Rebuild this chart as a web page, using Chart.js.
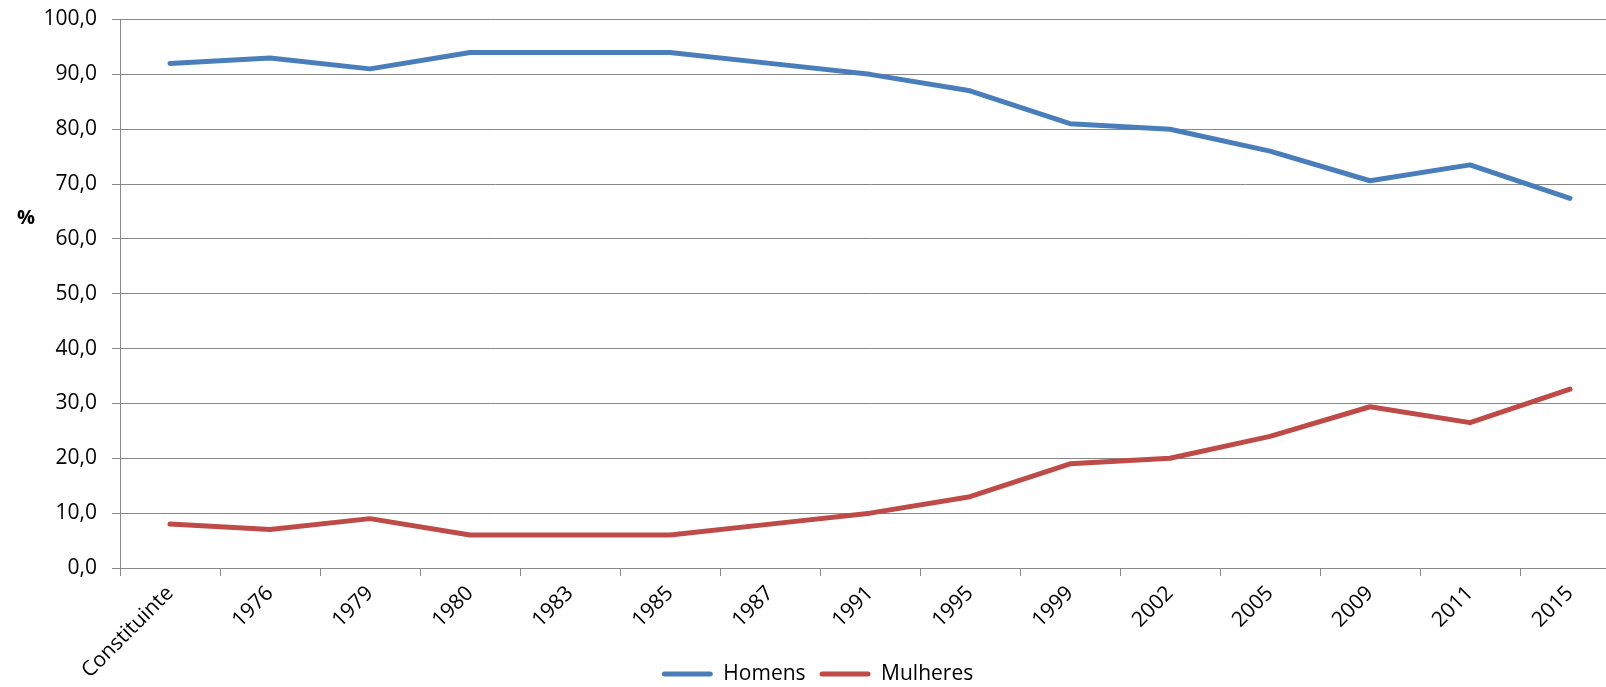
<!DOCTYPE html>
<html><head><meta charset="utf-8">
<script src="https://cdn.jsdelivr.net/npm/chart.js@4"></script>
<style>
html,body{margin:0;padding:0;background:#fff;overflow:hidden;width:1606px;height:687px;}
#wrap{position:absolute;left:0;top:0;width:1626px;height:687px;}
</style></head><body>
<div id="wrap"><canvas id="c" width="1626" height="687"></canvas></div>
<script>
const categories = ["Constituinte","1976","1979","1980","1983","1985","1987","1991","1995","1999","2002","2005","2009","2011","2015"];
const homens   = [92, 93, 91, 94, 94, 94, 92, 90, 87, 81, 80, 76, 70.6, 73.5, 67.4];
const mulheres = [8, 7, 9, 6, 6, 6, 8, 10, 13, 19, 20, 24, 29.4, 26.5, 32.6];
const yTicks = [0,10,20,30,40,50,60,70,80,90,100];
const unitLabel = "%";

const FONT = "'Open Sans', sans-serif";
const FS = 21;
const pctPlugin = {
  id:'pct',
  afterDraw(chart){
    const ctx = chart.ctx, y = chart.scales.y;
    ctx.save();
    ctx.font = "bold 20px " + FONT;
    ctx.fillStyle = "#000";
    ctx.textAlign = "left"; ctx.textBaseline = "middle";
    ctx.fillText(unitLabel, 17, y.getPixelForValue(63.7));
    ctx.restore();
  }
};

new Chart(document.getElementById('c'), {
  type:'line',
  data:{
    labels: categories,
    datasets:[
      {label:'Homens', data:homens, borderColor:'#4A7EBB', backgroundColor:'#4A7EBB', borderWidth:5, pointRadius:0, tension:0, borderCapStyle:'round', borderJoinStyle:'round'},
      {label:'Mulheres', data:mulheres, borderColor:'#BE4B48', backgroundColor:'#BE4B48', borderWidth:5, pointRadius:0, tension:0, borderCapStyle:'round', borderJoinStyle:'round'}
    ]
  },
  options:{
    responsive:false, animation:false,
    layout:{padding:{top:19.5, right:6, left:15, bottom:-7.5}},
    plugins:{
      legend:{position:'bottom', labels:{font:{family:FONT,size:FS}, color:'#000', boxWidth:51, boxHeight:5, padding:14, useBorderRadius:true, borderRadius:2.5,
        generateLabels(chart){ return chart.data.datasets.map((d,i)=>({text:d.label, fillStyle:d.borderColor, strokeStyle:d.borderColor, lineWidth:0, borderRadius:2.5, datasetIndex:i, fontColor:'#000'})); }}},
      tooltip:{enabled:false}
    },
    scales:{
      x:{
        offset:true,
        grid:{display:true, offset:true, drawOnChartArea:false, drawTicks:true, tickLength:8, color:'#888888', lineWidth:1},
        border:{color:'#888888', width:1},
        ticks:{font:{family:FONT,size:FS}, color:'#000', maxRotation:45, minRotation:45, autoSkip:false, padding:5},
        afterFit(s){ s.height = 81.5; s.paddingLeft = 0; s.paddingRight = 0; s._computeLabelArea = () => undefined; }
      },
      y:{
        min:0, max:100,
        afterBuildTicks(s){ s.ticks = yTicks.map(v=>({value:v})); },
        grid:{color:'#888888', lineWidth:1, tickLength:8},
        border:{color:'#888888', width:1},
        ticks:{font:{family:FONT,size:FS}, color:'#000', padding:15, callback:v=>v.toFixed(1).replace('.',',')},
        afterFit(s){ s.width = 105; s.paddingTop = 0; s.paddingBottom = 0; }
      }
    }
  },
  plugins:[pctPlugin]
});
</script>
</body></html>
